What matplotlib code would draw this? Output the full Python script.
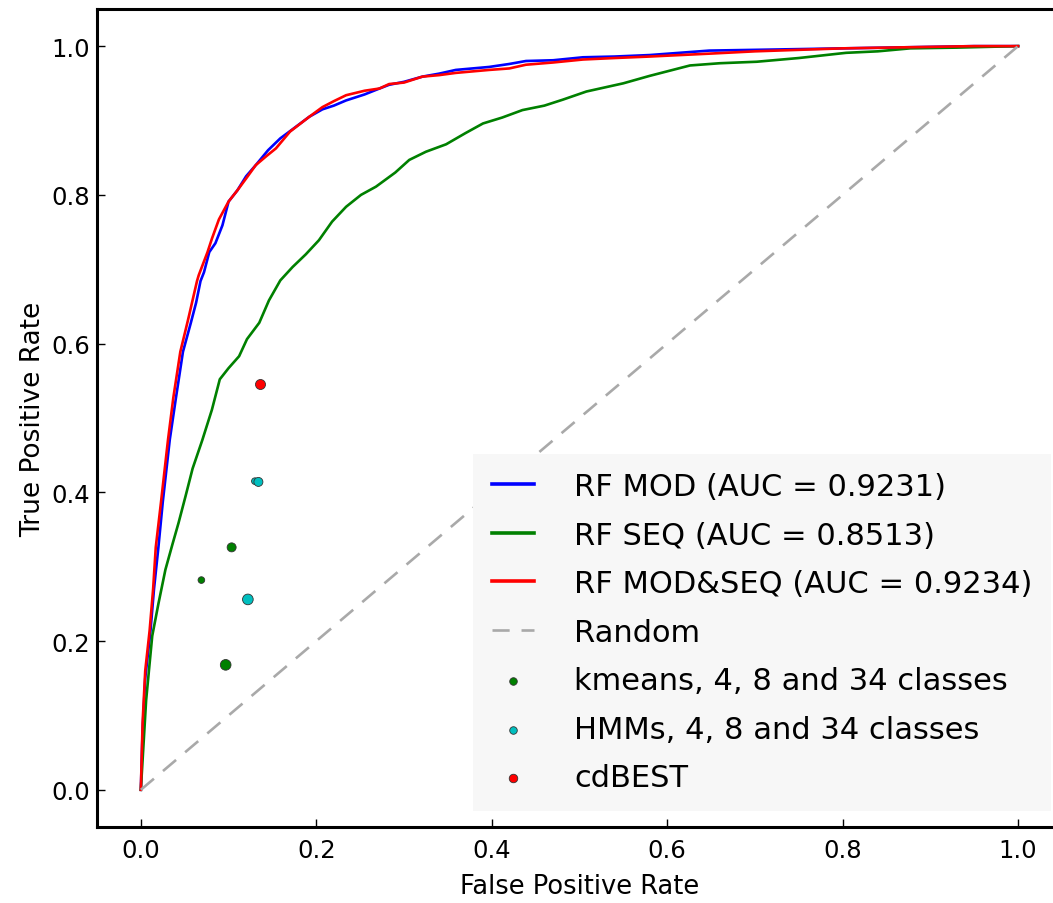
import matplotlib
matplotlib.use("Agg")
import matplotlib.pyplot as plt

# ---- ROC curves ----
mod_fpr = [0, 0.002, 0.005, 0.011, 0.015, 0.020, 0.025, 0.033, 0.040, 0.048,
           0.057, 0.063, 0.068, 0.072, 0.078, 0.085, 0.093, 0.100, 0.110, 0.120,
           0.131, 0.145, 0.159, 0.175, 0.192, 0.207, 0.220, 0.234, 0.255, 0.272,
           0.283, 0.300, 0.321, 0.340, 0.359, 0.397, 0.420, 0.439, 0.470, 0.504,
           0.540, 0.580, 0.648, 0.700, 0.750, 0.800, 0.850, 0.900, 0.950, 1.0]
mod_tpr = [0, 0.08, 0.15, 0.214, 0.27, 0.326, 0.387, 0.471, 0.527, 0.589,
           0.628, 0.655, 0.684, 0.696, 0.723, 0.735, 0.759, 0.791, 0.806, 0.825,
           0.840, 0.860, 0.876, 0.890, 0.905, 0.915, 0.920, 0.927, 0.935, 0.943,
           0.948, 0.952, 0.959, 0.963, 0.968, 0.972, 0.976, 0.980, 0.981, 0.985,
           0.986, 0.988, 0.994, 0.995, 0.996, 0.997, 0.998, 0.999, 1.0, 1.0]

seq_fpr = [0, 0.003, 0.006, 0.010, 0.013, 0.020, 0.028, 0.036, 0.043, 0.051,
           0.059, 0.070, 0.081, 0.090, 0.100, 0.112, 0.121, 0.135, 0.146, 0.159,
           0.173, 0.188, 0.203, 0.218, 0.234, 0.251, 0.268, 0.290, 0.306, 0.325,
           0.348, 0.370, 0.390, 0.412, 0.435, 0.460, 0.481, 0.508, 0.550, 0.580,
           0.626, 0.660, 0.702, 0.750, 0.804, 0.840, 0.877, 0.930, 1.0]
seq_tpr = [0, 0.06, 0.12, 0.17, 0.207, 0.25, 0.296, 0.33, 0.359, 0.395,
           0.432, 0.47, 0.511, 0.552, 0.567, 0.583, 0.606, 0.628, 0.658, 0.685,
           0.703, 0.720, 0.739, 0.764, 0.784, 0.800, 0.811, 0.830, 0.847, 0.858,
           0.868, 0.883, 0.896, 0.904, 0.914, 0.920, 0.928, 0.939, 0.950, 0.960,
           0.974, 0.977, 0.979, 0.984, 0.991, 0.993, 0.997, 0.998, 1.0]

both_fpr = [0, 0.002, 0.005, 0.010, 0.014, 0.017, 0.023, 0.031, 0.037, 0.045,
            0.053, 0.055, 0.064, 0.066, 0.076, 0.081, 0.089, 0.100, 0.110, 0.120,
            0.131, 0.143, 0.154, 0.170, 0.192, 0.207, 0.220, 0.234, 0.255, 0.272,
            0.283, 0.300, 0.321, 0.340, 0.359, 0.397, 0.420, 0.439, 0.470, 0.504,
            0.540, 0.580, 0.650, 0.700, 0.750, 0.800, 0.850, 0.900, 0.950, 1.0]
both_tpr = [0, 0.09, 0.16, 0.214, 0.27, 0.326, 0.387, 0.471, 0.527, 0.589,
            0.628, 0.638, 0.684, 0.692, 0.723, 0.741, 0.767, 0.791, 0.806, 0.822,
            0.840, 0.852, 0.8625, 0.885, 0.905, 0.918, 0.926, 0.934, 0.940, 0.943,
            0.949, 0.951, 0.959, 0.961, 0.964, 0.968, 0.970, 0.975, 0.978, 0.982,
            0.984, 0.986, 0.990, 0.993, 0.995, 0.997, 0.998, 0.999, 1.0, 1.0]

# ---- single classifier points (4, 8, 34 classes) ----
kmeans_fpr = [0.069, 0.1035, 0.0967]
kmeans_tpr = [0.282, 0.326, 0.168]
kmeans_size = [23, 42, 59]

hmm_fpr = [0.130, 0.134, 0.122]
hmm_tpr = [0.415, 0.414, 0.256]
hmm_size = [23, 42, 59]

cdbest_fpr = [0.136]
cdbest_tpr = [0.546]
cdbest_size = [52]

labels = ["RF MOD (AUC = 0.9231)", "RF SEQ (AUC = 0.8513)",
          "RF MOD&SEQ (AUC = 0.9234)", "Random",
          "kmeans, 4, 8 and 34 classes", "HMMs, 4, 8 and 34 classes", "cdBEST"]

plt.rcParams['font.family'] = ['DejaVu Sans']

fig = plt.figure(figsize=(10.53, 9.04), dpi=100)
ax = fig.add_axes([0.0921, 0.0841, 0.9164, 0.9049])

ax.plot(mod_fpr, mod_tpr, color='#0000ff', lw=1.9, label=labels[0])
ax.plot(seq_fpr, seq_tpr, color='#008000', lw=1.9, label=labels[1])
ax.plot(both_fpr, both_tpr, color='#ff0000', lw=1.9, label=labels[2])
ax.plot([0, 1], [0, 1], color='#a9a9a9', lw=1.9, ls=(0, (6.5, 4.5)), label=labels[3])

ax.scatter(kmeans_fpr, kmeans_tpr, s=kmeans_size, c='#008000',
           edgecolors='#333333', linewidths=0.6, zorder=3, label=labels[4])
ax.scatter(hmm_fpr, hmm_tpr, s=hmm_size, c='#00bfbf',
           edgecolors='#333333', linewidths=0.6, zorder=3, label=labels[5])
ax.scatter(cdbest_fpr, cdbest_tpr, s=cdbest_size, c='#ff0000',
           edgecolors='#333333', linewidths=0.6, zorder=3, label=labels[6])

ax.set_xlim(-0.05, 1.05)
ax.set_ylim(-0.05, 1.05)
ax.set_xticks([0.0, 0.2, 0.4, 0.6, 0.8, 1.0])
ax.set_yticks([0.0, 0.2, 0.4, 0.6, 0.8, 1.0])
ax.tick_params(direction='in', length=6, width=1, labelsize=17.5)
ax.tick_params(axis='x', pad=8)
ax.tick_params(axis='y', pad=5)
for sp in ax.spines.values():
    sp.set_linewidth(2.2)
ax.spines['right'].set_visible(False)

ax.set_xlabel("False Positive Rate", fontsize=18.5, labelpad=8)
ax.set_ylabel("True Positive Rate", fontsize=19, labelpad=4)

leg = ax.legend(loc='lower right', bbox_to_anchor=(0.9885, 0.02),
                borderaxespad=0, fontsize=22, labelspacing=0.64,
                handlelength=1.4, handletextpad=1.3, borderpad=0.6,
                scatterpoints=1, fancybox=False, markerscale=0.85)
leg.get_frame().set_facecolor('#f7f7f7')
leg.get_frame().set_edgecolor('none')
leg.get_frame().set_alpha(1)
for h in leg.legend_handles[:3]:
    h.set_linewidth(2.6)

fig.savefig("out.png", dpi=100)
